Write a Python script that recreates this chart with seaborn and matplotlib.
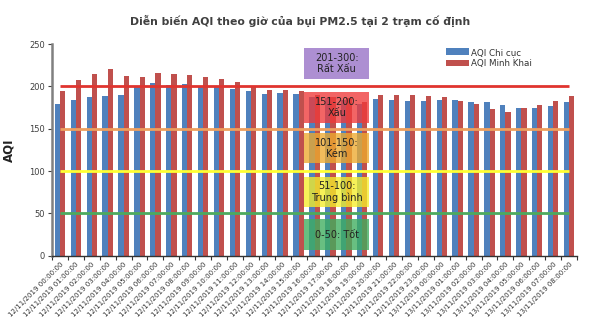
import matplotlib
matplotlib.use("Agg")
import matplotlib.pyplot as plt
import seaborn as sns
import pandas as pd
from matplotlib.patches import Rectangle
from matplotlib.ticker import FixedLocator

# Hourly timestamps
times = [f"12/11/2019 {h:02d}:00:00" for h in range(24)] + \
        [f"13/11/2019 {h:02d}:00:00" for h in range(9)]

# Hourly AQI (PM2.5) at the two stations
aqi_chi_cuc = [179, 184, 187, 189, 190, 200, 204, 202, 203, 200,
               200, 197, 195, 191, 192, 191, 188, 186, 184, 179,
               185, 184, 183, 183, 184, 184, 182, 181, 178, 174,
               175, 177, 182]
aqi_minh_khai = [194, 207, 214, 221, 212, 211, 216, 214, 213, 211,
                 209, 205, 200, 196, 196, 194, 190, 188, 186, 182,
                 190, 190, 190, 189, 187, 183, 179, 173, 170, 175,
                 178, 183, 189]

series_names = ["AQI Chi cục", "AQI Minh Khai"]
series_colors = ["#4F81BD", "#C0504D"]

# AQI thresholds drawn as reference lines
thresholds = [50, 100, 150, 200]
threshold_colors = ["#4DAA5E", "#FFFF33", "#EE9F5E", "#E0342F"]

# Category legend boxes
band_labels = ["0-50: Tốt", "51-100:\nTrung bình", "101-150:\nKém",
               "151-200:\nXấu", "201-300:\nRất Xấu"]
band_centers = [25, 75, 127, 175, 227]
band_colors = ["#3DAE5E", "#F5EE2A", "#EEAA2E", "#EF3A3A", "#9670C6"]

df = pd.DataFrame({
    "time": times * 2,
    "aqi": aqi_chi_cuc + aqi_minh_khai,
    "station": [series_names[0]] * len(times) + [series_names[1]] * len(times),
})

sns.set_theme(style="white")
plt.rcParams["font.family"] = ["DejaVu Sans"]

fig = plt.figure(figsize=(6.0, 3.25), dpi=100)
ax = fig.add_axes([0.0867, 0.2132, 0.875, 0.6514])

sns.barplot(data=df, x="time", y="aqi", hue="station", order=times,
            hue_order=series_names, palette=series_colors, width=0.66,
            gap=0, saturation=1, linewidth=0, ax=ax, zorder=2, legend=True)

n = len(times)
for v, c in zip(thresholds, threshold_colors):
    ax.hlines(v, 0, n - 1, colors=c, linewidth=2.0, zorder=3)

box_left, box_width, box_height = 15.35, 4.1, 36
for lab, yc, col in zip(band_labels, band_centers, band_colors):
    ax.add_patch(Rectangle((box_left, yc - box_height / 2), box_width, box_height,
                           facecolor=col, edgecolor="none", alpha=0.78, zorder=4))
    ax.text(box_left + box_width / 2, yc, lab, ha="center", va="center",
            fontsize=7, color="#222222", zorder=5, linespacing=1.15)

ax.set_xlim(-0.5, n - 0.5)
ax.set_ylim(0, 250)
ax.set_yticks(range(0, 251, 50))
ax.tick_params(axis="y", labelsize=6, colors="#404040", length=3, width=0.8,
               left=True, pad=2)
ax.set_xticks(range(n))
ax.set_xticklabels(times, rotation=45, ha="right", rotation_mode="anchor",
                   fontsize=5, color="#333333")
ax.tick_params(axis="x", which="major", length=0, pad=4)
ax.xaxis.set_minor_locator(FixedLocator([i - 0.5 for i in range(n + 1)]))
ax.tick_params(axis="x", which="minor", bottom=True, length=3, width=0.8,
               color="#333333")

ax.set_xlabel("")
ax.set_ylabel("AQI", fontsize=8.5, fontweight="bold", color="#222222", labelpad=10)

for s in ["top", "right"]:
    ax.spines[s].set_visible(False)
ax.spines["left"].set_color("#808080")
ax.spines["left"].set_linewidth(1.8)
ax.spines["bottom"].set_color("#333333")
ax.spines["bottom"].set_linewidth(1.0)

ax.legend(loc="upper left", bbox_to_anchor=(0.735, 1.02), frameon=False,
          fontsize=6.3, handlelength=2.6, handleheight=0.75, labelspacing=0.25,
          handletextpad=0.3, labelcolor="#333333")

fig.text(0.5, 0.935, "Diễn biến AQI theo giờ của bụi PM2.5 tại 2 trạm cố định",
         ha="center", va="center", fontsize=7.8, fontweight="bold", color="#404040")

fig.savefig("out.png", dpi=100)
